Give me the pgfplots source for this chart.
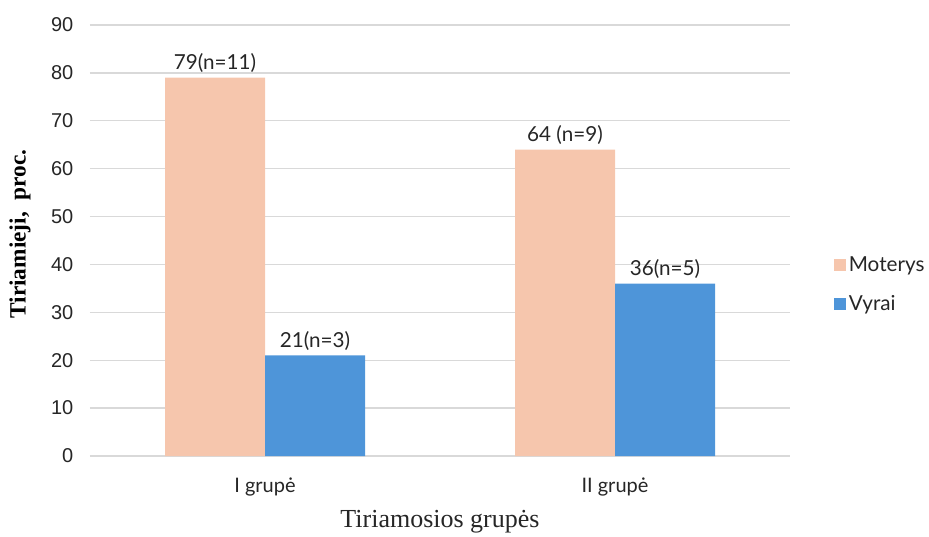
\documentclass[border=0pt]{standalone}
\usepackage{fontspec}
\setmainfont{Liberation Serif}
\newfontfamily\arialf{Liberation Sans}
\newfontfamily\labelf{Lato}
\usepackage{pgfplots}
\pgfplotsset{compat=1.18}
\definecolor{moterys}{HTML}{F6C6AD}
\definecolor{vyrai}{HTML}{4E95D9}
\definecolor{gridgray}{HTML}{D9D9D9}
\definecolor{txt}{HTML}{262626}
\begin{document}
\begin{tikzpicture}
% page of 929 x 536 px at 0.75 pt per px
\useasboundingbox (0pt,0pt) rectangle (696.75pt,402pt);
\begin{axis}[
  at={(67.5pt,60pt)}, anchor=south west,
  scale only axis, width=525pt, height=323.25pt,
  ybar=0pt, bar width=75pt,
  xmin=-0.5, xmax=1.5, ymin=0, ymax=90,
  xtick=data, xticklabels={I grupė, II grupė},
  ytick={0,10,...,90},
  axis line style={draw=none},
  ymajorgrids, grid style={gridgray, line width=1pt},
  major tick length=0pt,
  /pgf/number format/assume math mode=true,
  yticklabel style={font=\arialf\fontsize{15}{17}\selectfont, text=txt, xshift=-9pt},
  xticklabel style={font=\labelf\fontsize{15}{17}\selectfont, text=txt, yshift=-13pt},
  ylabel={\bfseries Tiriamieji,\ \ proc.},
  ylabel style={font=\fontsize{17.5}{19}\selectfont, at={(axis description cs:-0.1,0.515)}, anchor=center},
  xlabel={Tiriamosios grupės},
  xlabel style={font=\fontsize{19.5}{21}\selectfont, text=txt, at={(axis description cs:0.5,-0.153)}, anchor=center},
  nodes near coords,
  point meta=explicit symbolic,
  nodes near coords style={font=\labelf\fontsize{15.5}{17}\selectfont, text=txt, anchor=south, yshift=0pt},
  legend style={draw=none, fill=none, at={(1.057,0.398)}, anchor=west,
    font=\labelf\fontsize{15.5}{17}\selectfont, text=txt,
    row sep=12pt, cells={anchor=west}},
  legend image code/.code={\fill[#1] (0pt,-4.5pt) rectangle (9pt,4.5pt);},
  clip=false,
]
\addplot[fill=moterys, draw=none] coordinates {(0,79) [79(n=11)] (1,64) [64 (n=9)]};
\addplot[fill=vyrai, draw=none] coordinates {(0,21) [21(n=3)] (1,36) [36(n=5)]};
\legend{Moterys, Vyrai}
\end{axis}
\end{tikzpicture}
\end{document}
